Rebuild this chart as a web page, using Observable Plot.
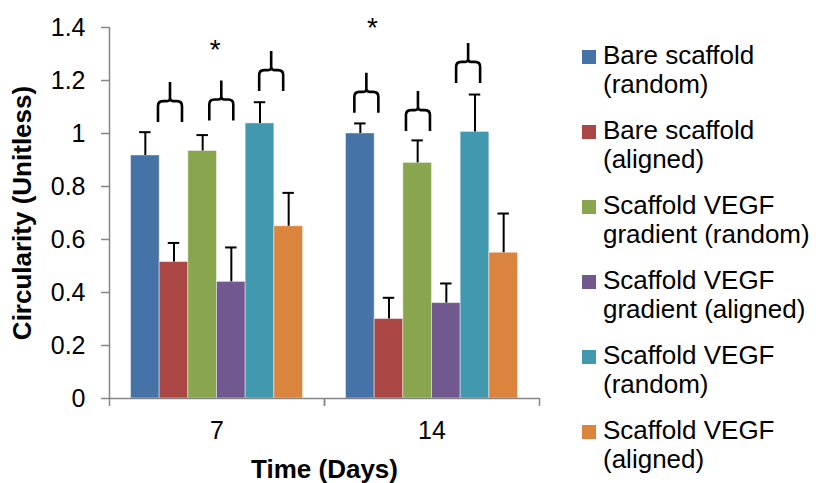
<!DOCTYPE html>
<html>
<head>
<meta charset="utf-8">
<script src="https://cdn.jsdelivr.net/npm/d3@7"></script>
<script src="https://cdn.jsdelivr.net/npm/@observablehq/plot@0.6"></script>
<style>
  body { margin: 0; background: #fff; }
  #wrap { position: relative; width: 816px; height: 483px; overflow: hidden;
          font-family: "Liberation Sans", Arial, sans-serif; color: #000; }
  #chart { position: absolute; left: 0; top: 0; }
  #legend { position: absolute; left: 582px; top: 41px; }
  .item { position: relative; height: 75px; }
  .swatch { position: absolute; left: 0; top: 9px; width: 14px; height: 14px; }
  .label { position: absolute; left: 21px; top: 0; font-size: 26px; line-height: 29px; white-space: nowrap; }
</style>
</head>
<body>
<div id="wrap">
  <div id="chart"></div>
  <div id="legend"></div>
</div>
<script>
// Groups on the x axis (time point, days)
const days = ["7", "14"];

// Scaffold conditions, in bar order within each group
const seriesNames = [
  "Bare scaffold (random)",
  "Bare scaffold (aligned)",
  "Scaffold VEGF gradient (random)",
  "Scaffold VEGF gradient (aligned)",
  "Scaffold VEGF (random)",
  "Scaffold VEGF (aligned)"
];
const seriesColors = ["#4572A7", "#AA4643", "#89A54E", "#71588F", "#4198AF", "#DB843D"];

// Mean circularity and upper error per condition
const day7Means  = [0.917, 0.515, 0.934, 0.440, 1.038, 0.650];
const day7Errors = [0.088, 0.072, 0.060, 0.130, 0.080, 0.126];
const day14Means  = [1.000, 0.300, 0.889, 0.360, 1.006, 0.550];
const day14Errors = [0.038, 0.080, 0.085, 0.074, 0.141, 0.148];

const yTicks = [0, 0.2, 0.4, 0.6, 0.8, 1, 1.2, 1.4];

// Comparison braces over pairs of bars (position in bar units, base level)
const braceDays    = ["7", "7", "7", "14", "14", "14"];
const braceCenters = [1.36, 3.15, 4.89, 0.71, 2.51, 4.26];
const braceBases   = [1.043, 1.049, 1.160, 1.078, 1.009, 1.191];

// Significance markers
const starDays    = ["7", "14"];
const starCenters = [2.94, 0.92];
const starLevels  = [1.341, 1.426];

const yTitle = "Circularity (Unitless)";
const xTitle = "Time (Days)";

const meansByDay = [day7Means, day14Means];
const errorsByDay = [day7Errors, day14Errors];
const rows = days.flatMap((day, di) => seriesNames.map((series, i) => ({
  day, series, index: i, mean: meansByDay[di][i], err: errorsByDay[di][i]
})));
const braces = braceDays.map((day, i) => ({day, at: braceCenters[i], base: braceBases[i]}));
const stars = starDays.map((day, i) => ({day, at: starCenters[i], level: starLevels[i]}));

const xDomain = [-0.75, seriesNames.length + 0.75];
const axisGray = "#868686";

// Overbrace drawn upward from its base point: two legs and a central spike
const braceSymbol = {
  draw(ctx) {
    const w = 12, leg = 21, spike = 19, r = 5;
    ctx.moveTo(-w, 0);
    ctx.lineTo(-w, -leg + r);
    ctx.quadraticCurveTo(-w, -leg, -w + r, -leg);
    ctx.lineTo(-3, -leg);
    ctx.quadraticCurveTo(0, -leg, 0, -leg - 3);
    ctx.lineTo(0, -leg - spike);
    ctx.moveTo(0, -leg - 3);
    ctx.quadraticCurveTo(0, -leg, 3, -leg);
    ctx.lineTo(w - r, -leg);
    ctx.quadraticCurveTo(w, -leg, w, -leg + r);
    ctx.lineTo(w, 0);
  }
};

const plot = Plot.plot({
  width: 560,
  height: 483,
  marginTop: 27,
  marginBottom: 85,
  marginLeft: 108,
  marginRight: 21,
  style: {fontFamily: "'Liberation Sans', Arial, sans-serif", fontSize: "25px", color: "#000", background: "#fff", overflow: "visible"},
  fx: {domain: days, padding: 0, label: null, axis: null},
  x: {type: "linear", domain: xDomain, axis: null},
  y: {domain: [0, 1.4], axis: null},
  color: {domain: seriesNames, range: seriesColors},
  marks: [
    // bars
    Plot.rectY(rows, {
      fx: "day", x1: "index", x2: d => d.index + 1, y1: 0, y2: "mean",
      fill: "series", stroke: "#ffffff", strokeOpacity: 0.45, strokeWidth: 1
    }),
    // error bars (upper only)
    Plot.ruleX(rows, {fx: "day", x: d => d.index + 0.5, y1: "mean", y2: d => d.mean + d.err, stroke: "#000", strokeWidth: 2}),
    Plot.ruleY(rows, {fx: "day", x1: d => d.index + 0.3, x2: d => d.index + 0.7, y: d => d.mean + d.err, stroke: "#000", strokeWidth: 2}),
    // axes
    Plot.ruleY([0], {stroke: axisGray, strokeWidth: 1.5}),
    Plot.ruleX([{day: days[0]}], {fx: "day", x: () => xDomain[0], y1: 0, y2: 1.4, stroke: axisGray, strokeWidth: 1.5}),
    Plot.axisX(xDomain, {tickSize: 8, fill: "none", stroke: axisGray, strokeWidth: 1.5}),
    Plot.axisY(yTicks, {tickSize: 8, tickPadding: 16, stroke: axisGray, strokeWidth: 1.5, fontSize: 25, tickFormat: d => String(d), label: null}),
    Plot.axisY([], {tickSize: 0, label: yTitle, labelAnchor: "center", labelArrow: "none", labelOffset: 97, fontWeight: "bold", fontSize: 26}),
    Plot.axisFx({anchor: "bottom", tickSize: 0, tickPadding: 23, fontSize: 25, label: null}),
    Plot.axisFx([], {anchor: "bottom", tickSize: 0, label: xTitle, labelAnchor: "center", labelArrow: "none", labelOffset: 79, fontWeight: "bold", fontSize: 26}),
    // comparison braces and significance markers
    Plot.dot(braces, {fx: "day", x: "at", y: "base", symbol: braceSymbol, fill: "none", stroke: "#000", strokeWidth: 2.6}),
    Plot.text(stars, {fx: "day", x: "at", y: "level", text: () => "*", fontSize: 28, dy: 7, lineAnchor: "middle", fill: "#000"})
  ]
});
document.getElementById("chart").appendChild(plot);

// Legend built from the plot's color scale
const color = plot.scale("color");
const legend = d3.select("#legend");
color.domain.forEach((name, i) => {
  const words = name.split(" ");
  const item = legend.append("div").attr("class", "item");
  item.append("div").attr("class", "swatch").style("background", color.range[i]);
  item.append("div").attr("class", "label")
    .html(words.slice(0, 2).join(" ") + "<br>" + words.slice(2).join(" "));
});
</script>
</body>
</html>
